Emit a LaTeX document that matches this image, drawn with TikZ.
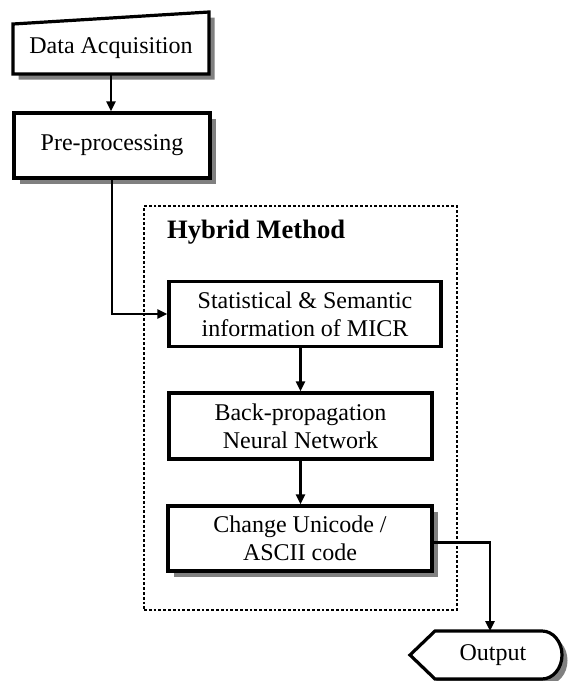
\documentclass[tikz,border=0pt]{standalone}
\usepackage{fontspec}
\setmainfont{Liberation Serif}
\usetikzlibrary{arrows.meta,shadows}
\def\procnode{\node[proc]}

\begin{document}
\begin{tikzpicture}[x=0.5pt,y=-0.5pt,
  font=\fontsize{12}{14}\selectfont,
  proc/.style={draw,line width=1.6pt,fill=white,align=center,inner sep=0pt,minimum height=32.5pt},
  shadowed/.style={drop shadow={shadow xshift=2.75pt,shadow yshift=-2.75pt,fill=gray,opacity=1}},
  link/.style={line width=1.3pt,-{Triangle[length=5pt,width=4.5pt]}}]
\useasboundingbox (0,0) rectangle (568,681);
% manual input shape
\draw[line width=1.6pt,fill=white,shadowed] (13,24) -- (209,12) -- (209,74) -- (13,74) -- cycle;
\node (acq) at (111,48) [minimum width=98pt,minimum height=26pt,inner sep=0pt] {Data Acquisition};
\procnode (pre) at (112,145.5) [shadowed,minimum width=98pt] {Pre-processing};
% hybrid block
\node (hybrid) at (300.5,408) [draw,dash pattern=on 1.4pt off 1pt,line width=1.4pt,minimum width=156.5pt,minimum height=202pt] {};
\node (title) at (160,232) [anchor=west,font=\fontsize{13.3}{16}\selectfont\bfseries] {Hybrid Method};
\procnode (stat) at (305,314) [minimum width=136pt] {Statistical \& Semantic\\information of MICR};
\procnode (bp) at (300.5,426) [minimum width=131.5pt,minimum height=33pt] {Back-propagation\\Neural Network};
\procnode (ch) at (300,538.5) [shadowed,minimum width=132pt] {Change Unicode /\\ASCII code};
% display shape
\draw[line width=1.6pt,fill=white,shadowed] (410,655) -- (435,631) -- (542,631) arc[start angle=90,end angle=-90,x radius=20,y radius=-24] -- (435,679) -- cycle;
\node (out) at (493,655) {Output};
\coordinate (outtop) at (490,631);
\draw[link] (acq.south) -- (acq.south |- pre.north);
\draw[link] (pre.south) |- (stat.west);
\draw[link] (stat.south -| bp.north) -- (bp.north);
\draw[link] (bp.south) -- (bp.south |- ch.north);
\draw[link] ([yshift=-2pt]ch.east) -| (outtop);
\end{tikzpicture}
\end{document}
